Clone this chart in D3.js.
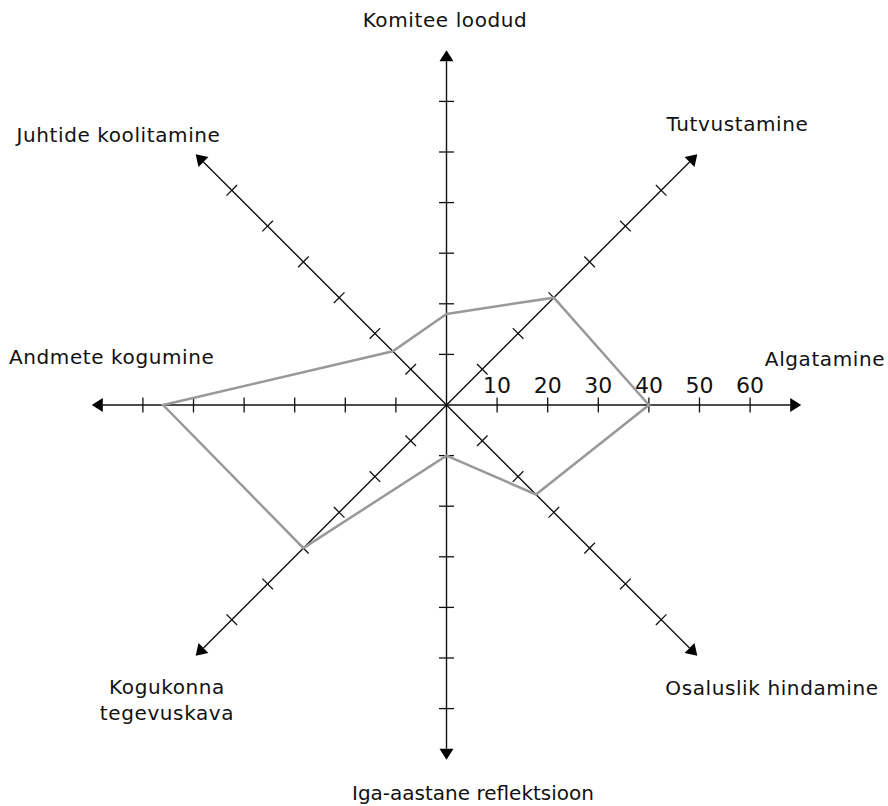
<!DOCTYPE html>
<html>
<head>
<meta charset="utf-8">
<script src="https://cdn.jsdelivr.net/npm/d3@7/dist/d3.min.js"></script>
<style>
  html, body { margin: 0; padding: 0; background: #fff; }
  svg { display: block; }
  text { font-family: "DejaVu Sans", sans-serif; fill: #111; }
</style>
</head>
<body>
<svg id="chart" width="888" height="806"></svg>
<script>
// ---- data ----
const categories = [
  "Komitee loodud",
  "Tutvustamine",
  "Algatamine",
  "Osaluslik hindamine",
  "Iga-aastane reflektsioon",
  "Kogukonna tegevuskava",
  "Andmete kogumine",
  "Juhtide koolitamine"
];
const values = [18, 30, 40, 25, 10, 40, 56, 15];
const tickValues = [10, 20, 30, 40, 50, 60];
const tickLabels = ["10", "20", "30", "40", "50", "60"];

// ---- layout ----
const W = 888, H = 806;
const cx = 446.5, cy = 405;
const pxPer10 = 50.6;
const axisMax = 70.1;
const r = d3.scaleLinear().domain([0, 60]).range([0, pxPer10 * 6]);
// angle: 0 = up, clockwise
const angle = d3.scalePoint().domain(categories).range([0, 2 * Math.PI * 7 / 8]);

// label anchors (layout only)
const labelLayout = {
  "Komitee loodud": { x: 445, y: 26.5, anchor: "middle", ls: 0.6 },
  "Tutvustamine": { x: 737.5, y: 131, anchor: "middle", ls: 0.6 },
  "Algatamine": { x: 825, y: 366, anchor: "middle", ls: 0.6 },
  "Osaluslik hindamine": { x: 772, y: 695, anchor: "middle", ls: 0.6 },
  "Iga-aastane reflektsioon": { x: 473, y: 800, anchor: "middle", ls: 0 },
  "Kogukonna tegevuskava": { x: 167, y: 694, anchor: "middle", ls: 0.6, lines: ["Kogukonna", "tegevuskava"] },
  "Andmete kogumine": { x: 111.7, y: 364, anchor: "middle", ls: 0.6 },
  "Juhtide koolitamine": { x: 118.5, y: 142.3, anchor: "middle", ls: 0.6 }
};

const svg = d3.select("#chart");
const g = svg.append("g").attr("transform", `translate(${cx},${cy})`);

function pt(cat, v) {
  const a = angle(cat);
  const d = r(v);
  return [d * Math.sin(a), -d * Math.cos(a)];
}

// axes
const axes = g.append("g").attr("class", "axes");
categories.forEach(cat => {
  const a = angle(cat);
  const ux = Math.sin(a), uy = -Math.cos(a);
  const px = -uy, py = ux; // perpendicular
  const tipLen = r(axisMax);
  const arrowLen = 11, arrowHalf = 7;
  const baseLen = tipLen - arrowLen;
  axes.append("line")
    .attr("x1", 0).attr("y1", 0)
    .attr("x2", ux * baseLen).attr("y2", uy * baseLen)
    .attr("stroke", "#111").attr("stroke-width", 1.4);
  // arrowhead
  const tip = [ux * tipLen, uy * tipLen];
  const b1 = [ux * baseLen + px * arrowHalf, uy * baseLen + py * arrowHalf];
  const b2 = [ux * baseLen - px * arrowHalf, uy * baseLen - py * arrowHalf];
  axes.append("path")
    .attr("d", d3.line()([tip, b1, b2]) + "Z")
    .attr("fill", "#000");
  // ticks
  const half = 7.5;
  tickValues.forEach(tv => {
    const d = r(tv);
    axes.append("line")
      .attr("x1", ux * d + px * half).attr("y1", uy * d + py * half)
      .attr("x2", ux * d - px * half).attr("y2", uy * d - py * half)
      .attr("stroke", "#111").attr("stroke-width", 1.3);
  });
});

// tick labels on the Algatamine axis
const labelAxis = "Algatamine";
g.append("g").selectAll("text")
  .data(tickValues)
  .join("text")
  .attr("x", (d) => pt(labelAxis, d)[0])
  .attr("y", (d) => pt(labelAxis, d)[1] - 12.5)
  .attr("text-anchor", "middle")
  .style("font-size", "22px")
  .text((d, i) => tickLabels[i]);

// data polygon
const polyPts = categories.map((c, i) => pt(c, values[i]));
g.append("path")
  .attr("d", d3.line()(polyPts) + "Z")
  .attr("fill", "none")
  .attr("stroke", "#999")
  .attr("stroke-width", 2.5)
  .attr("stroke-linejoin", "miter");

// category labels
categories.forEach(cat => {
  const L = labelLayout[cat];
  const t = svg.append("text")
    .attr("x", L.x).attr("y", L.y)
    .attr("text-anchor", L.anchor)
    .style("font-size", "20px")
    .style("letter-spacing", L.ls + "px");
  if (L.lines) {
    L.lines.forEach((ln, i) => {
      t.append("tspan").attr("x", L.x).attr("dy", i === 0 ? 0 : 26).text(ln);
    });
  } else {
    t.text(cat);
  }
});
</script>
</body>
</html>
